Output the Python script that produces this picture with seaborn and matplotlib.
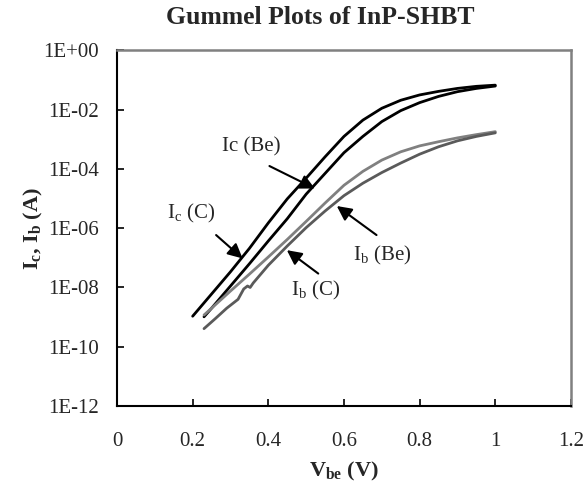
import numpy as np
import pandas as pd
import matplotlib
matplotlib.use("Agg")
import matplotlib.pyplot as plt
import seaborn as sns

# Vbe (V) and log10(I)
vbe_ic_c = [0.20, 0.25, 0.30, 0.35, 0.40, 0.45, 0.50, 0.55, 0.60, 0.65, 0.70, 0.75, 0.80, 0.85, 0.90, 0.95, 1.00]
log_ic_c = [-8.97, -8.22, -7.47, -6.68, -5.82, -5.01, -4.31, -3.59, -2.90, -2.35, -1.95, -1.68, -1.50, -1.38, -1.28, -1.21, -1.17]

vbe_ic_be = [0.23, 0.25, 0.30, 0.35, 0.40, 0.45, 0.50, 0.55, 0.60, 0.65, 0.70, 0.75, 0.80, 0.85, 0.90, 0.95, 1.00]
log_ic_be = [-8.99, -8.70, -7.95, -7.20, -6.43, -5.68, -4.85, -4.15, -3.45, -2.90, -2.40, -2.03, -1.76, -1.55, -1.39, -1.28, -1.20]

vbe_ib_be = [0.23, 0.25, 0.30, 0.35, 0.40, 0.45, 0.50, 0.55, 0.60, 0.65, 0.70, 0.75, 0.80, 0.85, 0.90, 0.95, 1.00]
log_ib_be = [-8.93, -8.70, -8.12, -7.55, -6.97, -6.38, -5.77, -5.15, -4.55, -4.08, -3.70, -3.42, -3.22, -3.08, -2.95, -2.84, -2.74]

vbe_ib_c = [0.23, 0.26, 0.29, 0.32, 0.335, 0.345, 0.352, 0.36, 0.40, 0.45, 0.50, 0.55, 0.60, 0.65, 0.70, 0.75, 0.80, 0.85, 0.90, 0.95, 1.00]
log_ib_c = [-9.39, -9.05, -8.70, -8.40, -8.05, -7.95, -8.00, -7.85, -7.25, -6.60, -5.98, -5.42, -4.90, -4.48, -4.12, -3.80, -3.50, -3.25, -3.05, -2.90, -2.78]

series = ["Ic (C)", "Ic (Be)", "Ib (Be)", "Ib (C)"]
colors = ["#000000", "#000000", "#808080", "#5a5a5a"]

frames = []
for name, v, lg in [("Ic (C)", vbe_ic_c, log_ic_c), ("Ic (Be)", vbe_ic_be, log_ic_be),
                    ("Ib (Be)", vbe_ib_be, log_ib_be), ("Ib (C)", vbe_ib_c, log_ib_c)]:
    frames.append(pd.DataFrame({"Vbe": v, "I": 10.0 ** np.array(lg), "curve": name}))
df = pd.concat(frames, ignore_index=True)

sns.set_style("white")
plt.rcParams["font.family"] = ["Liberation Serif", "DejaVu Serif"]
plt.rcParams["mathtext.fontset"] = "custom"
plt.rcParams["mathtext.rm"] = "Liberation Serif"
plt.rcParams["mathtext.it"] = "Liberation Serif:italic"
plt.rcParams["mathtext.bf"] = "Liberation Serif:bold"

fig = plt.figure(figsize=(5.87, 4.96), dpi=100)
ax = fig.add_axes([0.1993, 0.1815, 0.7734, 0.7167])

sns.lineplot(data=df, x="Vbe", y="I", hue="curve", hue_order=series,
             palette=dict(zip(series, colors)), linewidth=2, legend=False,
             sort=False, estimator=None, ax=ax)

ax.set_yscale("log")
ax.set_xlim(0, 1.2)
ax.set_ylim(1e-12, 1)
ax.set_xticks([0, 0.2, 0.4, 0.6, 0.8, 1.0, 1.2])
ax.set_xticklabels(["0", "0.2", "0.4", "0.6", "0.8", "1", "1.2"])
yt = [10.0 ** e for e in range(0, -13, -2)]
ax.set_yticks(yt)
ax.set_yticklabels(["1E+00", "1E-02", "1E-04", "1E-06", "1E-08", "1E-10", "1E-12"])
ax.minorticks_off()
ax.tick_params(axis="both", direction="in", length=5, width=1.2, color="black",
               labelsize=15, bottom=True, left=True)
ax.tick_params(axis="x", pad=19)
ax.tick_params(axis="y", pad=13)

for s in ["left", "bottom"]:
    ax.spines[s].set_color("black")
    ax.spines[s].set_linewidth(1.5)
for s in ["top", "right"]:
    ax.spines[s].set_color("#808080")
    ax.spines[s].set_linewidth(1.8)

ax.set_xlabel(r"V$_{\mathbf{be}}$ (V)", fontsize=16, fontweight="bold", labelpad=6)
ax.set_ylabel(r"I$_{\mathbf{c}}$, I$_{\mathbf{b}}$ (A)", fontsize=16, fontweight="bold", labelpad=-1)
fig.text(0.545, 0.965, "Gummel Plots of InP-SHBT", ha="center", va="center",
         fontsize=18.5, fontweight="bold")

arrow = dict(arrowstyle="-|>", lw=1.5, color="black", mutation_scale=22, shrinkA=0, shrinkB=0)
fs = 15
ax.text(0.356, 10 ** -3.25, "Ic (Be)", ha="center", va="center", fontsize=fs)
ax.annotate("", xy=(0.523, 10 ** -4.66), xytext=(0.403, 10 ** -3.90), arrowprops=arrow)
ax.text(0.196, 10 ** -5.49, r"I$_{\mathrm{c}}$ (C)", ha="center", va="center", fontsize=fs)
ax.annotate("", xy=(0.332, 10 ** -7.02), xytext=(0.262, 10 ** -6.23), arrowprops=arrow)
ax.text(0.702, 10 ** -6.91, r"I$_{\mathrm{b}}$ (Be)", ha="center", va="center", fontsize=fs)
ax.annotate("", xy=(0.581, 10 ** -5.25), xytext=(0.686, 10 ** -6.23), arrowprops=arrow)
ax.text(0.526, 10 ** -8.09, r"I$_{\mathrm{b}}$ (C)", ha="center", va="center", fontsize=fs)
ax.annotate("", xy=(0.449, 10 ** -6.74), xytext=(0.532, 10 ** -7.53), arrowprops=arrow)

fig.savefig("out.png", dpi=100)
